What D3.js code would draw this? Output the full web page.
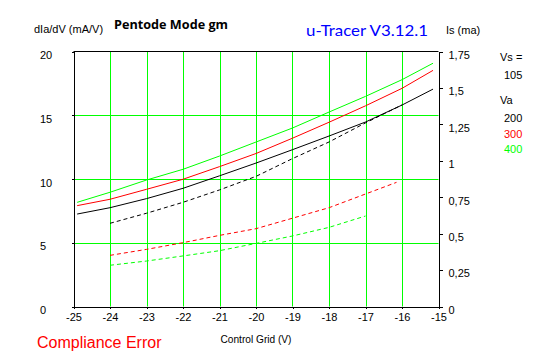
<!DOCTYPE html>
<html><head><meta charset="utf-8">
<script src="https://cdn.jsdelivr.net/npm/d3@7"></script>
<style>
html,body{margin:0;padding:0;background:#fff;}
svg{display:block;font-family:"Liberation Sans",Arial,sans-serif;}
</style></head>
<body><svg id="c" width="547" height="357"></svg>
<script>
// ---- data ----
const gmVolts = [-24.9,-24,-23,-22,-21,-20,-19,-18,-17,-16,-15.15];
const gm200 = [7.25,7.75,8.46,9.27,10.25,11.25,12.3,13.37,14.47,15.8,17.05];
const gm300 = [7.91,8.41,9.19,9.98,10.97,12.0,13.2,14.45,15.74,17.11,18.52];
const gm400 = [8.17,8.96,9.92,10.76,11.8,12.9,14.0,15.25,16.48,17.79,19.08];
const isVolts200 = [-24,-23,-22,-21,-20,-19,-18,-17,-16];
const is200 = [0.571,0.640,0.715,0.800,0.893,1.015,1.129,1.260,1.383];
const isVolts300 = [-24,-23,-22,-21,-20,-19,-18,-17,-16.15];
const is300 = [0.351,0.392,0.438,0.488,0.534,0.606,0.678,0.772,0.852];
const isVolts400 = [-24,-23,-22,-21,-20,-19,-18,-17];
const is400 = [0.283,0.312,0.347,0.383,0.433,0.484,0.543,0.621];
const xTicks = [-25,-24,-23,-22,-21,-20,-19,-18,-17,-16,-15];
const xGrid = [-24,-23,-22,-21,-20,-19,-18,-17,-16];
const yTicks = [0,5,10,15,20];
const yGrid = [5,10,15];
const rTicks = [0,0.25,0.5,0.75,1,1.25,1.5,1.75];
const rTickLabels = ["0","0,25","0,5","0,75","1","1,25","1,5","1,75"];
const legendVa = ["200","300","400"];

const GREEN="#00ff00", RED="#ff0000", BLACK="#000000";
const svg = d3.select("#c");
const x = d3.scaleLinear().domain([-25,-15]).range([73.5,438.5]);
const y = d3.scaleLinear().domain([0,20]).range([306.5,51.5]);
const yr = d3.scaleLinear().domain([0,1.75]).range([306.5,51.5]);

// grid
svg.append("g").selectAll("line").data(xGrid).join("line")
  .attr("x1",d=>Math.round(x(d))+0.5).attr("x2",d=>Math.round(x(d))+0.5)
  .attr("y1",y(0)).attr("y2",y(20)).attr("stroke",GREEN).attr("stroke-width",1);
svg.append("g").selectAll("line").data(yGrid).join("line")
  .attr("y1",d=>Math.round(y(d))+0.5).attr("y2",d=>Math.round(y(d))+0.5)
  .attr("x1",x(-25)).attr("x2",x(-15)).attr("stroke",GREEN).attr("stroke-width",1);
// top border
svg.append("line").attr("x1",x(-25)).attr("x2",x(-15)).attr("y1",y(20)).attr("y2",y(20)).attr("stroke",BLACK);

// axes
const fs = "11px";
const gL = svg.append("g").attr("transform",`translate(${x(-25)},0)`)
  .call(d3.axisLeft(y).tickValues(yTicks).tickSize(2).tickSizeOuter(0));
gL.selectAll("text").attr("x",40-x(-25)).attr("text-anchor","start").attr("dy","0.65em");
const gB = svg.append("g").attr("transform",`translate(0,${y(0)})`)
  .call(d3.axisBottom(x).tickValues(xTicks).tickSize(2).tickSizeOuter(0).tickPadding(5).tickFormat(d3.format("d")));
const gR = svg.append("g").attr("transform",`translate(${x(-15)},0)`)
  .call(d3.axisRight(yr).tickValues(rTicks).tickSize(4).tickSizeOuter(0).tickPadding(6)
    .tickFormat((d,i)=>rTickLabels[i]));
gR.selectAll("text").attr("dy","0.62em");
[gL,gB,gR].forEach(g=>{
  g.selectAll("text").attr("font-size",fs).attr("font-family","Liberation Sans, Arial, sans-serif").attr("fill","#000");
  g.selectAll("path,line").attr("stroke","#000").attr("shape-rendering","crispEdges");
});
gB.selectAll("text").text(d=>d<0?"-"+Math.abs(d):d);

// curves
const lineGm = d3.line().x(d=>x(d[0])).y(d=>y(d[1]));
const lineIs = d3.line().x(d=>x(d[0])).y(d=>yr(d[1]));
const zip=(a,b)=>a.map((v,i)=>[v,b[i]]);
const plot = (data,gen,color,dash)=>svg.append("path").datum(data).attr("d",gen)
  .attr("fill","none").attr("stroke",color).attr("stroke-width",1).attr("stroke-dasharray",dash);
plot(zip(isVolts400,is400),lineIs,GREEN,"4,3");
plot(zip(isVolts300,is300),lineIs,RED,"4,3");
plot(zip(isVolts200,is200),lineIs,BLACK,"4,3");
plot(zip(gmVolts,gm200),lineGm,BLACK,null);
plot(zip(gmVolts,gm300),lineGm,RED,null);
plot(zip(gmVolts,gm400),lineGm,GREEN,null);

// texts
const txt=(s,xx,yy,opt={})=>{
  const t=svg.append("text").attr("x",xx).attr("y",yy).text(s)
   .attr("font-size",opt.size||fs).attr("fill",opt.color||"#000")
   .attr("font-family",opt.family||"Liberation Sans, Arial, sans-serif")
   .attr("text-anchor",opt.anchor||"start");
  if(opt.weight) t.attr("font-weight",opt.weight);
  if(opt.len) t.attr("textLength",opt.len).attr("lengthAdjust","spacingAndGlyphs");
  return t;
};
txt("dIa/dV (mA/V)",34,33);
txt("Pentode Mode gm",114,29,{size:"13px",weight:"bold",family:"Open Sans, sans-serif",len:114});
txt("u-Tracer V3.12.1",306,36,{size:"16px",color:"#0000ff",family:"Comic Sans MS, Lato, sans-serif",len:122});
txt("Is (ma)",446,34);
txt("Vs =",500,61);
txt("105",504,79);
txt("Va",500,104);
const legColors=[BLACK,RED,GREEN];
legendVa.forEach((s,i)=>txt(s,504,[122,137.5,153][i],{color:legColors[i]}));
txt("Control Grid (V)",x(-20),343,{anchor:"middle",len:71});
txt("Compliance Error",37,348,{size:"16px",color:RED});
</script></body></html>
